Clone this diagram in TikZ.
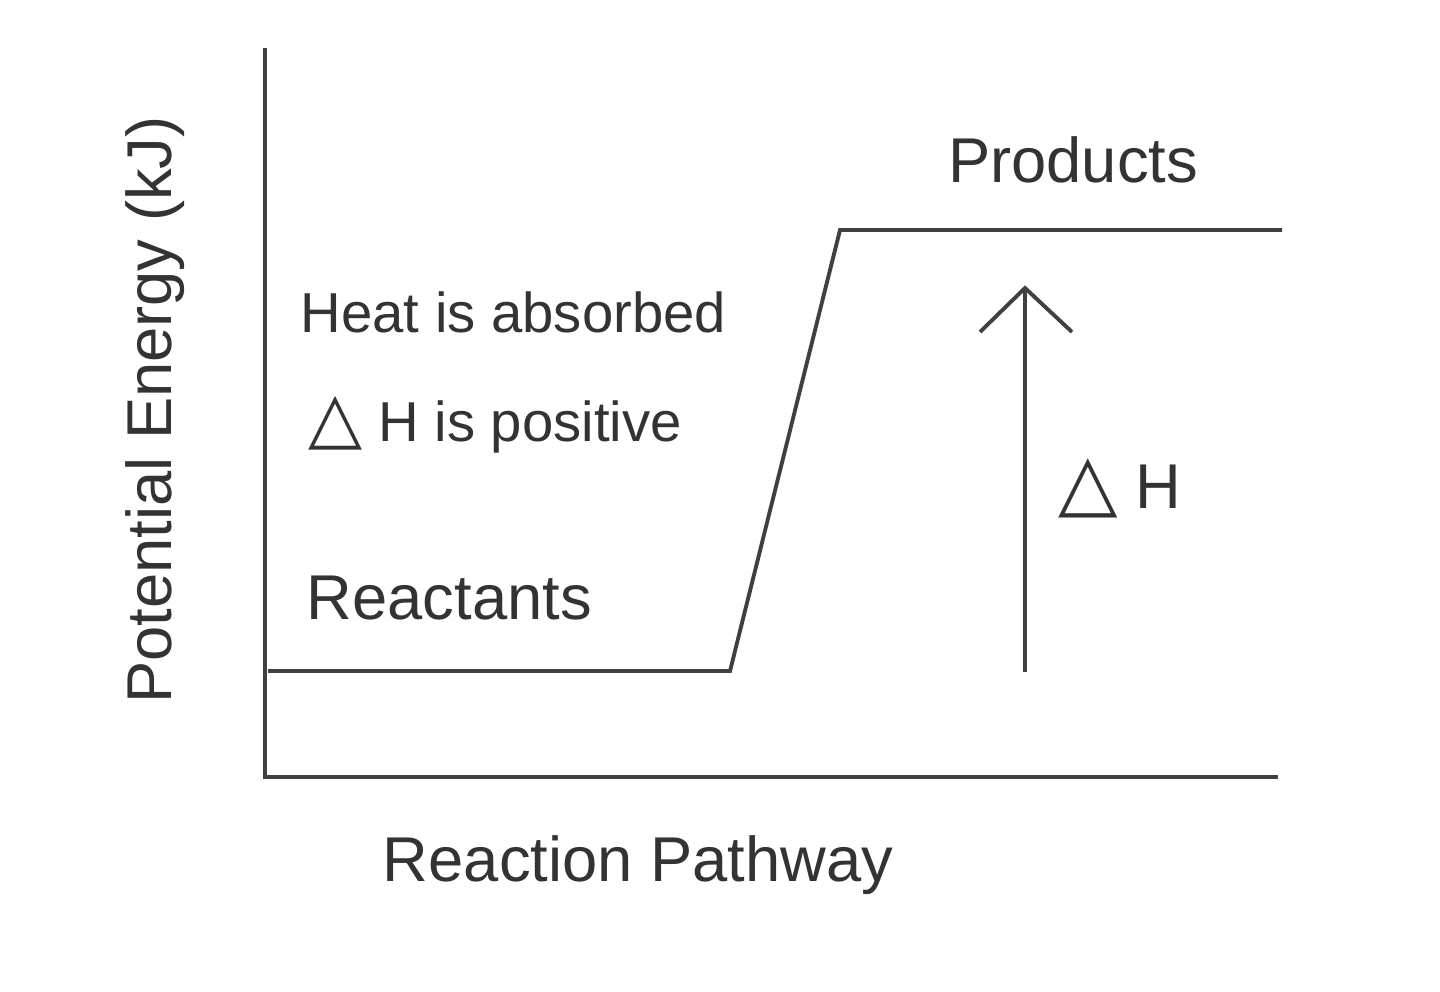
\documentclass[tikz,border=0pt]{standalone}
\usepackage{fontspec}
\setmainfont{Liberation Sans}
\newfontfamily\dv{DejaVu Sans}
\begin{document}
\begin{tikzpicture}[x=0.01cm,y=-0.01cm,
  ln/.style={draw=black!75,line width=1.1pt},
  lbl/.style={text=black!80,font=\fontsize{18}{20}\selectfont,inner sep=0pt},
  slbl/.style={text=black!80,font=\fontsize{16}{18}\selectfont,inner sep=0pt}]
\useasboundingbox (0,0) rectangle (1440,991);
\coordinate (top) at (265,48);
\coordinate (orig) at (265,777);
\coordinate (xend) at (1278,777);
\draw[ln] (top) -- (orig) -- (xend);
\coordinate (r0) at (268,671);
\coordinate (r1) at (730,671);
\coordinate (p0) at (840,230);
\coordinate (p1) at (1282,230);
\draw[ln] (r0) -- (r1) -- (p0) -- (p1);
\coordinate (a0) at (1025,672);
\coordinate (a1) at (1025,288);
\draw[ln] (a0) -- (a1);
\draw[ln] (980,332) -- (a1) -- (1072,332);
\node[lbl] (prod) at (1073,160) {Products};
\node[lbl] (path) at (638,865) {Reaction Pathway};
\node[slbl,anchor=west] (heat) at (300,312) {Heat is absorbed};
\node[slbl,anchor=west] (pos) at (308,425) {{\dv\fontsize{20}{20}\selectfont △} H is positive};
\node[lbl,anchor=west] (react) at (306,598) {Reactants};
\node[lbl,anchor=west] (dh) at (1058,488) {{\dv\fontsize{22}{22}\selectfont △} H};
\node[lbl,rotate=90] (ylab) at (155,410) {Potential Energy (kJ)};
\end{tikzpicture}
\end{document}
